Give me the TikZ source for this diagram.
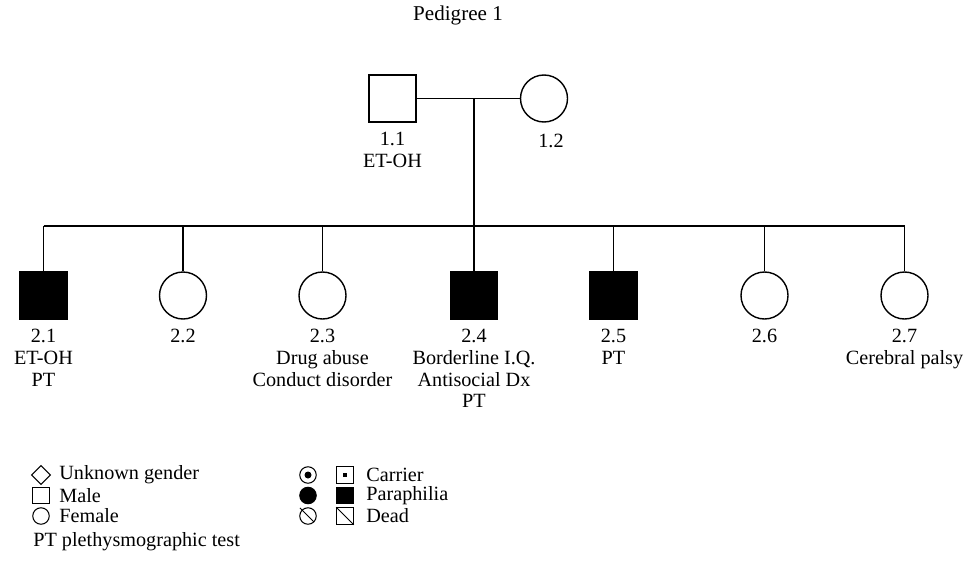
\documentclass[tikz,border=0pt]{standalone}
\usepackage{fontspec}
\setmainfont{Liberation Serif}
\usepackage{tikz}
\usetikzlibrary{positioning, shapes.geometric}

\begin{document}
\begin{tikzpicture}[
		male/.style={rectangle, draw, line width=0.8pt, minimum size=0.94cm, inner sep=0pt},
		female/.style={circle, draw, line width=0.8pt, minimum size=0.94cm, inner sep=0pt},
		affected/.style={fill=black},
		idlabel/.style={below=0.19cm, inner sep=0pt, align=center, font=\fontsize{11.5}{12.3}\selectfont},
		txt/.style={inner sep=0pt, font=\fontsize{11.5}{12.3}\selectfont},
		keymale/.style={rectangle, draw, line width=0.6pt, minimum size=0.33cm, inner sep=0pt},
		keyfemale/.style={circle, draw, line width=0.6pt, minimum size=0.33cm, inner sep=0pt},
		link/.style={line width=0.8pt}
	]
		
		\useasboundingbox (0,0) rectangle (19.38,-11.46);
		
		%Titolo
		\node(Title) at (9.16,-0.30) [txt, font=\fontsize{12}{13}\selectfont]{Pedigree 1};
		
		%Generazione 1
		\node(I1) at (7.85,-1.97) [male]{};
		\node(I2) at (10.88,-1.97) [female]{};
		\node(lI1) [idlabel, below=0.19cm of I1]{1.1\\ET-OH};
		\node(lI2) at (11.02,-2.81) [txt]{1.2};
		
		%Generazione 2
		\node(II1) at (0.87,-5.91) [male, affected]{};
		\node(II2) at (3.66,-5.91) [female]{};
		\node(II3) at (6.45,-5.91) [female]{};
		\node(II4) at (9.48,-5.91) [male, affected]{};
		\node(II5) at (12.27,-5.91) [male, affected]{};
		\node(II6) at (15.29,-5.91) [female]{};
		\node(II7) at (18.09,-5.91) [female]{};
		
		\node(lII1) [idlabel, below=0.19cm of II1]{2.1\\ET-OH\\PT};
		\node(lII2) [idlabel, below=0.19cm of II2]{2.2};
		\node(lII3) [idlabel, below=0.19cm of II3]{2.3\\Drug abuse\\Conduct disorder};
		\node(lII4) [idlabel, below=0.19cm of II4]{2.4\\Borderline I.Q.\\Antisocial Dx\\PT};
		\node(lII5) [idlabel, below=0.19cm of II5]{2.5\\PT};
		\node(lII6) [idlabel, below=0.19cm of II6]{2.6};
		\node(lII7) [idlabel, below=0.19cm of II7]{2.7\\Cerebral palsy};
		
		%Collegamenti
		\coordinate (Marriage) at (9.48,-1.97);
		\coordinate (Sibship) at (9.48,-4.52);
		\draw[link] (I1.east) -- (I2.west);
		\draw[link] (Marriage) -- (Sibship);
		\draw[link] (II1 |- Sibship) -- (II7 |- Sibship);
		\foreach \k in {II1,II2,II3,II4,II5,II6,II7}
			\draw[link] (\k |- Sibship) -- (\k.north);
		
		%Legenda - colonna sinistra
		\node(kUnknown) at (0.82,-9.50) [diamond, draw, line width=0.6pt, minimum width=0.38cm, minimum height=0.38cm, inner sep=0pt]{};
		\node(kMale) at (0.82,-9.91) [keymale]{};
		\node(kFemale) at (0.82,-10.32) [keyfemale]{};
		\node(tUnknown) at (1.18,-9.50) [txt, anchor=west]{Unknown gender};
		\node(tMale) at (1.18,-9.91) [txt, anchor=west]{Male};
		\node(tFemale) at (1.18,-10.32) [txt, anchor=west]{Female};
		\node(tPT) at (0.66,-10.84) [txt, anchor=west]{PT plethysmographic test};
		
		%Legenda - colonna destra
		\node(kCarrierF) at (6.16,-9.50) [keyfemale]{};
		\node(kCarrierM) at (6.90,-9.50) [keymale]{};
		\fill (kCarrierF.center) circle (0.07);
		\fill ([shift={(-0.045,-0.045)}]kCarrierM.center) rectangle ([shift={(0.045,0.045)}]kCarrierM.center);
		\node(kParaF) at (6.16,-9.91) [keyfemale, affected]{};
		\node(kParaM) at (6.90,-9.91) [keymale, affected]{};
		\node(kDeadF) at (6.16,-10.32) [keyfemale]{};
		\node(kDeadM) at (6.90,-10.32) [keymale]{};
		\draw[line width=0.6pt] ([shift={(135:0.23)}]kDeadF.center) -- ([shift={(-45:0.17)}]kDeadF.center);
		\draw[line width=0.6pt] (kDeadM.north west) -- (kDeadM.south east);
		\node(tCarrier) at (7.32,-9.50) [txt, anchor=west]{Carrier};
		\node(tPara) at (7.32,-9.91) [txt, anchor=west]{Paraphilia};
		\node(tDead) at (7.32,-10.32) [txt, anchor=west]{Dead};
		
\end{tikzpicture}
\end{document}
